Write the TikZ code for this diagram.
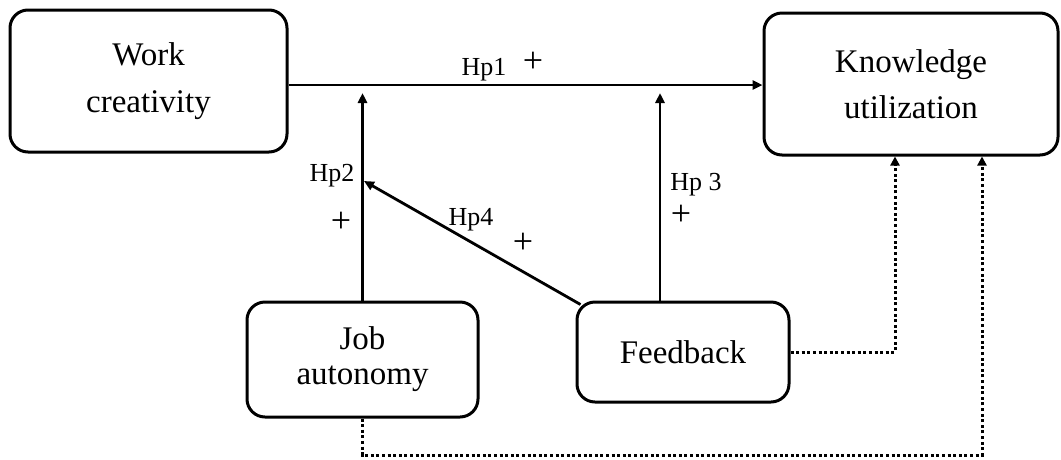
\documentclass[tikz,border=0pt]{standalone}
\usepackage{fontspec}
\setmainfont{Liberation Serif}
\usetikzlibrary{arrows.meta}
\begin{document}
\begin{tikzpicture}[x=1pt,y=-1pt,
  box/.style={draw,line width=3pt,rounded corners=18pt,align=center,inner sep=0pt},
  arr/.style={line width=2.8pt,-{Triangle[length=10pt,width=9pt]}},
  dot/.style={line width=3pt,dash pattern=on 3pt off 2.6pt,-{Triangle[length=9pt,width=9pt]}},
  lab/.style={font=\fontsize{26}{30}\selectfont,anchor=base,inner sep=0pt},
  plus/.style={font=\fontsize{36}{38}\selectfont,inner sep=0pt,text height=18pt,text depth=0pt,anchor=base}]
\useasboundingbox (0,0) rectangle (1061,459);
\node[box,minimum width=277pt,minimum height=142pt,font=\fontsize{33}{47}\selectfont] (Work) at (148.5,81) {Work\\creativity};
\node[box,minimum width=294pt,minimum height=142pt,font=\fontsize{33}{46}\selectfont] (Knowledge) at (911,84) {Knowledge\\utilization};
\node[box,minimum width=231pt,minimum height=115pt,font=\fontsize{33}{35}\selectfont] (Job) at (362.5,359.5) {Job\\autonomy};
\node[box,minimum width=212pt,minimum height=100pt,font=\fontsize{33}{40}\selectfont] (Feedback) at (683,352) {Feedback};
\coordinate (h1) at (0,85);
\coordinate (t2) at (362,93);
\coordinate (c3) at (660,93);
\coordinate (t4) at (364,181);
\coordinate (d1) at (895,0);
\coordinate (d2) at (982,455);
\draw[arr] (Work.east |- h1) -- (Knowledge.west |- h1);
\draw[arr] (Job.north) -- (Job.north |- t2);
\draw[arr] (c3 |- Feedback.north) -- (c3);
\draw[arr] ([shift={(5pt,-4pt)}]Feedback.north west) -- (t4);
\draw[dot] (Feedback.east) -| (Knowledge.south -| d1);
\draw[dot] (Job.south) |- (d2) -- (Knowledge.south -| d2);
\node[lab] (l1) at (484,75) {Hp1};
\node[plus] (p1) at (533,72) {+};
\node[lab] (l2) at (332,181) {Hp2};
\node[plus] (p2) at (341,232) {+};
\node[lab] (l4) at (471,225) {Hp4};
\node[plus] (p4) at (523,253) {+};
\node[lab] (l3) at (696,190) {Hp 3};
\node[plus] (p3) at (681,225) {+};
\end{tikzpicture}
\end{document}
